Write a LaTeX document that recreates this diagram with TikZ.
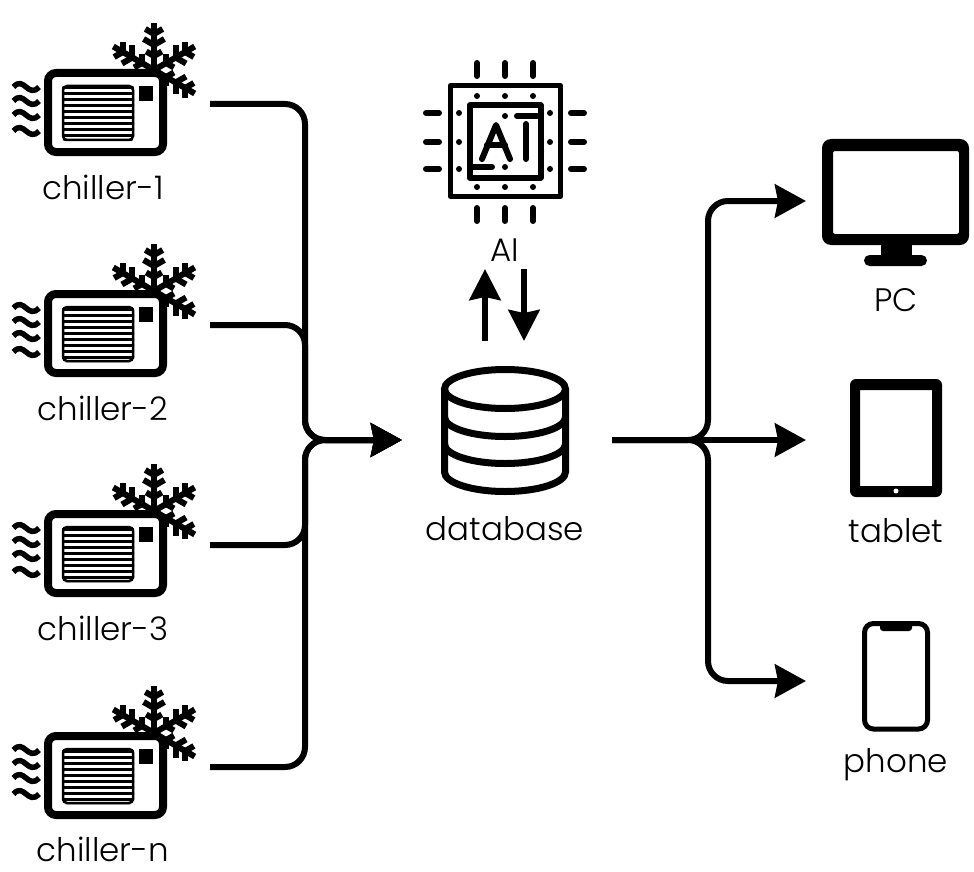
\documentclass[tikz,border=0pt]{standalone}
\usepackage{fontspec}
\setmainfont{Poppins}[UprightFont=* Light]
\usetikzlibrary{arrows.meta}
\tikzset{
  x=1pt,y=-1pt,
  lbl/.style={font=\fontsize{32.5}{38}\selectfont,inner sep=0pt,anchor=base,text=black},
  link/.style={line width=6pt,rounded corners=20pt,-{Stealth[length=31pt,width=33pt,inset=3pt]}},
  thin arrow/.style={line width=6pt,-{Stealth[length=31pt,width=31pt,inset=3pt]}},
  chip/.style={line width=6pt,line cap=round,line join=round},
  flake/.pic={
    \begin{scope}[line width=6pt]
    \foreach \a in {90,30,-30,-90,150,210}{
      \begin{scope}[rotate=\a]
        \draw (0,0) -- (47,0);
        \foreach \r/\l in {14/9,25/12,36/10}{
          \draw (\r,0) -- ++(60:\l);
          \draw (\r,0) -- ++(-60:\l);
        }
      \end{scope}
    }
    \end{scope}
  },
  chillericon/.pic={
    \pic at (154,70) {flake};
    \draw[fill=white,line width=8pt,rounded corners=8pt] (48,73) rectangle (163,152);
    \fill (139,86) rectangle (153,101);
    \begin{scope}
      \clip[rounded corners=3pt] (62,85) rectangle (134,141);
      \foreach \yy in {88,94,...,142}{\draw[line width=3pt] (60,\yy) -- (136,\yy);}
    \end{scope}
    \draw[line width=2.5pt,rounded corners=4pt] (63,86) rectangle (133,140);
    \foreach \yy in {87,101,115,131}{
      \draw[line width=5.5pt] (13.5,\yy) .. controls (24,\yy-12) and (28,\yy+12) .. (39,\yy);
    }
  }
}
\begin{document}
\begin{tikzpicture}
\useasboundingbox (0,0) rectangle (974,872);
% chillers
\pic at (0,0) {chillericon};
\pic at (0,221) {chillericon};
\pic at (0,441) {chillericon};
\pic at (0,663) {chillericon};
\node[lbl] (chiller1) at (103,199) {chiller-1};
\node[lbl] (chiller2) at (103,420) {chiller-2};
\node[lbl] (chiller3) at (103,640) {chiller-3};
\node[lbl] (chillern) at (103,861) {chiller-n};
\coordinate (c1) at (210,104);
\coordinate (c2) at (210,325);
\coordinate (c3) at (210,545);
\coordinate (c4) at (210,767);
\coordinate (busL) at (305,440);
\coordinate (dbin) at (402,440);
\draw[link] (c1) -| (busL) -- (dbin);
\draw[link] (c2) -| (busL) -- (dbin);
\draw[link] (c3) -| (busL) -- (dbin);
\draw[link] (c4) -| (busL) -- (dbin);
% database
\draw[line width=7pt] (505,389) ellipse [x radius=60.5,y radius=19.5];
\draw[line width=7pt] (444.5,389) -- (444.5,472) arc[start angle=180,end angle=0,x radius=60.5,y radius=19.5] -- (565.5,389);
\draw[line width=7pt] (444.5,417) arc[start angle=180,end angle=0,x radius=60.5,y radius=19.5];
\draw[line width=7pt] (444.5,444) arc[start angle=180,end angle=0,x radius=60.5,y radius=19.5];
\node[lbl] (database) at (505,540) {database};
\coordinate (dbout) at (612,440);
\coordinate (dbup) at (485,341);
\coordinate (aidown) at (524,269);
\coordinate (aiup) at (485,269);
\coordinate (dbdown) at (524,341);
\draw[thin arrow] (dbup) -- (aiup);
\draw[thin arrow] (aidown) -- (dbdown);
% AI chip
\draw[chip,line width=5pt] (450.5,85.5) rectangle (560.5,196.5);
\draw[chip] (469.5,105.5) rectangle (540.5,177.5);
\foreach \xx in {477,505,533}{
  \draw[chip] (\xx,63) -- (\xx,76);
  \draw[chip] (\xx,208) -- (\xx,221);
  \fill (\xx,96) circle (3pt);
  \fill (\xx,187) circle (3pt);
}
\foreach \yy in {113,142,169}{
  \draw[chip] (426,\yy) -- (439,\yy);
  \draw[chip] (571,\yy) -- (584,\yy);
  \fill (459,\yy) circle (3pt);
  \fill (550,\yy) circle (3pt);
}
\fill (505,116) circle (3pt);
\fill (505,167) circle (3pt);
\draw[chip] (517,116) -- (537,116);
\draw[chip] (472,167) -- (492,167);
\draw[chip] (482,159) -- (496,125) -- (510,159);
\draw[chip] (487,145) -- (505,145);
\draw[chip] (526,124) -- (526,159);
\node[lbl] (ai) at (505,261) {AI};
% outputs
\coordinate (busR) at (708,440);
\coordinate (pcin) at (806,201);
\coordinate (tabin) at (806,440);
\coordinate (phin) at (806,681);
\draw[link] (dbout) -- (busR) |- (pcin);
\draw[link] (dbout) -- (tabin);
\draw[link] (dbout) -- (busR) |- (phin);
% monitor
\fill (881,240) rectangle (912,258);
\fill[rounded corners=5.5pt] (864,255) rectangle (927,266);
\fill[rounded corners=9pt,even odd rule] (822,139) rectangle (969,245)
  [rounded corners=2pt] (833,151) rectangle (959,234);
\node[lbl] (pc) at (896,311) {PC};
% tablet
\fill[rounded corners=6pt,even odd rule] (850,379) rectangle (942,497)
  [sharp corners] (860,390) rectangle (932,486);
\fill[white] (896,491) circle (2.5pt);
\node[lbl] (tablet) at (896,542) {tablet};
% phone
\draw[line width=5pt,rounded corners=9pt] (864.5,623.5) rectangle (927.5,729);
\fill[rounded corners=3pt] (880,622) rectangle (912,631);
\node[lbl] (phone) at (896,772) {phone};
\end{tikzpicture}
\end{document}
